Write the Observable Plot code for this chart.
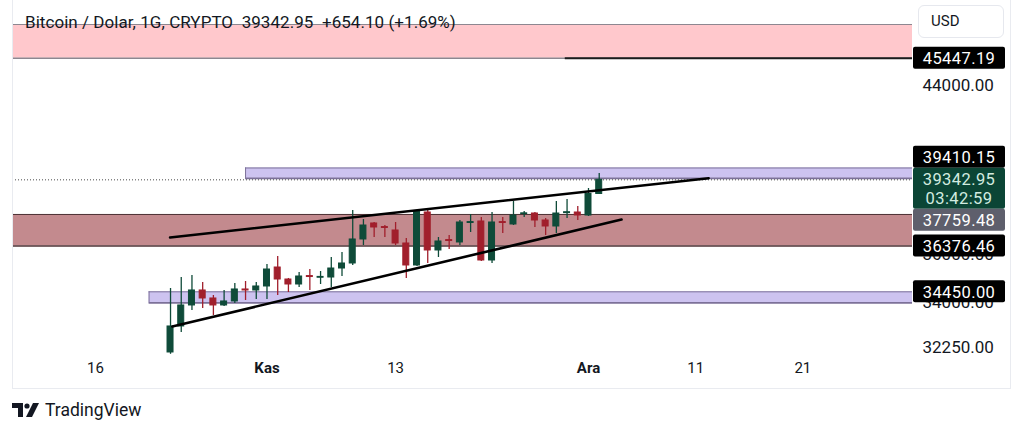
<!DOCTYPE html>
<html><head><meta charset="utf-8">
<script src="https://cdn.jsdelivr.net/npm/d3@7"></script>
<script src="https://cdn.jsdelivr.net/npm/@observablehq/plot@0.6"></script>
<style>
html,body{margin:0;padding:0;background:#fff;}
#wrap{position:relative;width:1024px;height:435px;overflow:hidden;font-family:Roboto,"Noto Sans",sans-serif;color:#131722;}
#chart svg{display:block;}
#title{position:absolute;left:25px;top:12px;font-size:17px;white-space:pre;color:#131722;letter-spacing:0.05px;}
#usd{position:absolute;left:918px;top:5px;width:86px;height:33px;border:1px solid #e6e8ee;border-radius:6px;box-sizing:border-box;font-size:15px;line-height:31px;padding-left:12px;color:#131722;background:#fff;}
#frame{position:absolute;left:12px;top:-1px;width:999px;height:390px;border:1px solid #e9ebf0;box-sizing:border-box;pointer-events:none;}
#logo{position:absolute;left:12px;top:400px;display:flex;align-items:center;font-size:17.5px;color:#131722;}
#logo svg{margin-right:5px;}
</style></head>
<body><div id="wrap"><div id="chart"></div><div id="frame"></div>
<div id="title">Bitcoin / Dolar, 1G, CRYPTO  39342.95  +654.10 (+1.69%)</div>
<div id="usd">USD</div>
<div id="logo"><svg width="28" height="14" viewBox="0 0 28 14"><path d="M0 0H11V14H6V5H0Z" fill="#131722"/><circle cx="15" cy="3" r="2.6" fill="#131722"/><path d="M21 0H27L20 14H14Z" fill="#131722"/></svg>TradingView</div>
</div>
<script>
// ---- data ----
const candleDates = ["2023-10-23","2023-10-24","2023-10-25","2023-10-26","2023-10-27","2023-10-28","2023-10-29","2023-10-30","2023-10-31","2023-11-01","2023-11-02","2023-11-03","2023-11-04","2023-11-05","2023-11-06","2023-11-07","2023-11-08","2023-11-09","2023-11-10","2023-11-11","2023-11-12","2023-11-13","2023-11-14","2023-11-15","2023-11-16","2023-11-17","2023-11-18","2023-11-19","2023-11-20","2023-11-21","2023-11-22","2023-11-23","2023-11-24","2023-11-25","2023-11-26","2023-11-27","2023-11-28","2023-11-29","2023-11-30","2023-12-01","2023-12-02"];
const opens  = [32059,33063,33897,34505,34179,33897,34058,34546,34505,34669,35458,34957,34751,35100,35030,35040,35416,35627,36656,37358,37200,37049,36482,35543,37848,36181,36630,36526,37380,37447,35754,37420,37314,37780,37803,37491,37225,37820,37848,37714,38688.85];
const highs  = [34587,35040,35124,34833,34301,34505,34792,34875,34833,35585,35924,35000,35249,35374,35291,35882,36095,37938,37535,37402,37269,37402,36699,37938,37938,36743,36830,37491,37759,37624,37848,37624,38346,37893,37848,37580,38346,38437,38119,38941,39640];
const lows   = [31990,32828,33697,33777,33497,33860,33977,34098,34139,34139,34301,34423,34628,34505,34751,34628,35082,35543,36396,36743,36743,36396,34999,35501,35627,35882,36224,36396,36960,35712,35627,36917,37269,37624,37181,36830,36917,37580,37491,37669,38665];
const closes = [33063,33897,34505,34179,33897,34058,34546,34505,34669,35374,34957,34751,35082,35060,35065,35416,35627,36656,37269,37181,37160,36482,35543,37893,36181,36569,36590,37402,37420,35754,37402,37380,37714,37810,37491,37225,37803,37860,37714,38688.85,39342.95];

const zoneStarts = ["2023-10-01","2023-10-30","2023-10-01","2023-10-21"];
const zoneLows   = [45447.19, 39410.15, 36376.46, 34000];
const zoneHighs  = [47300, 39900, 37759.48, 34450];
const zoneFills  = ["#ffc8cc","#cdc3f0","#c38a8e","#cdc3f0"];
const zoneEdges  = ["#8d8790","#7c7199","#4e3336","#7c7199"];

const resistanceStart = "2023-11-28T20:00";
const resistancePrice = 45447.19;

const upperTrendDates = ["2023-10-22T23:00","2023-12-12T05:00"];
const upperTrendPrices = [36743, 39420];
const lowerTrendDates = ["2023-10-23T04:00","2023-12-04T02:00"];
const lowerTrendPrices = [33063, 37535];

const lastPrice = 39342.95;

const xTickDates = ["2023-10-16","2023-11-01","2023-11-13","2023-12-01","2023-12-11","2023-12-21"];
const xTickLabels = ["16","Kas","13","Ara","11","21"];
const xTickBold = [false,true,false,true,false,false];

const yTicks = [44000, 36000, 34000, 32250];

const labelPrices = [45447.19, 39410.15, 39342.95, 37759.48, 36376.46, 34450.00];
const labelTexts  = ["45447.19","39410.15","39342.95","37759.48","36376.46","34450.00"];
const labelSubs   = ["","","03:42:59","","",""];
const labelKinds  = ["level","level","last","gray","level","level"];

// ---- build tables ----
const D = s => new Date(s.length === 10 ? s + "T00:00Z" : s + "Z");
const candles = candleDates.map((d,i)=>({date:D(d), open:opens[i], high:highs[i], low:lows[i], close:closes[i]}));
const zones = zoneStarts.map((d,i)=>({x1:D(d), x2:D("2024-02-01"), y1:zoneLows[i], y2:zoneHighs[i], fill:zoneFills[i], edge:zoneEdges[i]}));
const upperTrend = upperTrendDates.map((d,i)=>({date:D(d), price:upperTrendPrices[i]}));
const lowerTrend = lowerTrendDates.map((d,i)=>({date:D(d), price:lowerTrendPrices[i]}));
const xTicks = xTickDates.map((d,i)=>({date:D(d), label:xTickLabels[i], bold:xTickBold[i]}));

const GREEN = "#0f4b39", RED = "#a11f2c";
const DAY = 864e5;
const col = d => d.close >= d.open ? GREEN : RED;

const W = 1024, H = 435, ML = 12, MR = 112, MB = 77;

const plot = Plot.plot({
  width: W, height: H,
  marginLeft: ML, marginRight: MR, marginTop: 0, marginBottom: MB,
  style: {fontFamily: "Roboto, 'Noto Sans', sans-serif", color: "#131722", background: "transparent"},
  x: {type: "utc", domain: [D("2023-10-08T06:07"), D("2023-12-31T05:34")], axis: null},
  y: {type: "log", domain: [31831, 48666], axis: null},
  color: {type: "identity"},
  marks: [
    Plot.rect(zones, {x1:"x1", x2:"x2", y1:"y1", y2:"y2", fill:"fill", clip:true}),
    Plot.ruleY(zones, {x1:"x1", x2:"x2", y:"y2", stroke:"edge", strokeWidth:1, clip:true}),
    Plot.ruleY(zones, {x1:"x1", x2:"x2", y:"y1", stroke:"edge", strokeWidth:1.6, clip:true}),
    Plot.ruleX(zones, {x:"x1", y1:"y1", y2:"y2", stroke:"edge", strokeWidth:1, clip:true}),
    Plot.ruleY([resistancePrice], {x1: D(resistanceStart), x2: D("2024-02-01"), stroke:"#1c1c1c", strokeWidth:2, clip:true}),
    Plot.ruleY([lastPrice], {stroke:"#4a4a4a", strokeWidth:1, strokeDasharray:"1,2"}),
    Plot.ruleX(candles, {x:"date", y1:"low", y2:"high", stroke: col, strokeWidth:1.3}),
    Plot.rect(candles, {x1: d=>new Date(+d.date - 0.28*DAY), x2: d=>new Date(+d.date + 0.28*DAY), y1:"open", y2:"close", fill: col, stroke: col, strokeWidth:1}),
    Plot.line(upperTrend, {x:"date", y:"price", stroke:"#000", strokeWidth:2.6}),
    Plot.line(lowerTrend, {x:"date", y:"price", stroke:"#000", strokeWidth:2.6}),
    Plot.axisY({anchor:"right", ticks: yTicks, tickFormat: d=>d.toFixed(2), tickSize:0, tickPadding:10, fontSize:17, label:null}),
    Plot.text(xTicks, {filter: d=>!d.bold, x:"date", text:"label", frameAnchor:"bottom", dy:14, fontSize:15, fill:"#131722"}),
    Plot.text(xTicks, {filter: d=>d.bold, x:"date", text:"label", frameAnchor:"bottom", dy:14, fontSize:15, fontWeight:700, fill:"#131722"})
  ]
});
document.getElementById("chart").appendChild(plot);

// ---- price labels on the right scale ----
const ys = plot.scale("y");
const boxX = W - MR + 1, boxW = 92, hN = 22, hL = 41;
const labs = labelPrices.map((p,i)=>({p, y: ys.apply(p), text:labelTexts[i], sub:labelSubs[i], kind:labelKinds[i]}));
const anchor = labs.find(l=>l.kind==="last");
anchor.top = anchor.y - 11.5; anchor.h = hL;
let limit = anchor.top;
labs.filter(l=>l.kind!=="last" && l.y < anchor.y).sort((a,b)=>b.y-a.y).forEach(l=>{
  let top = l.y - hN/2; if (top + hN > limit) top = limit - hN; l.top = top; l.h = hN; limit = top;
});
limit = anchor.top + hL;
labs.filter(l=>l.kind!=="last" && l.y >= anchor.y).sort((a,b)=>a.y-b.y).forEach(l=>{
  let top = l.y - hN/2; if (top < limit) top = limit; l.top = top; l.h = hN; limit = top + hN;
});
const svg = d3.select(plot);
const g = svg.append("g").attr("font-family","Roboto, 'Noto Sans', sans-serif").attr("font-size",16.5);
const fills = {level:"#000000", gray:"#5e5f6c", last:"#0b4535"};
labs.forEach(l=>{
  g.append("rect").attr("x",boxX).attr("y",l.top).attr("width",boxW).attr("height",l.h).attr("rx",2).attr("fill",fills[l.kind]);
  const tc = l.kind==="last" ? "#d2ece0" : "#ffffff";
  g.append("text").attr("x",boxX+boxW/2).attr("y",l.top+11.5).attr("dy","0.36em").attr("text-anchor","middle").attr("fill",tc).attr("letter-spacing",0.4).text(l.text);
  if (l.sub) g.append("text").attr("x",boxX+boxW/2).attr("y",l.top+30).attr("dy","0.36em").attr("text-anchor","middle").attr("fill",tc).attr("letter-spacing",0.4).text(l.sub);
});
</script>
</body></html>
